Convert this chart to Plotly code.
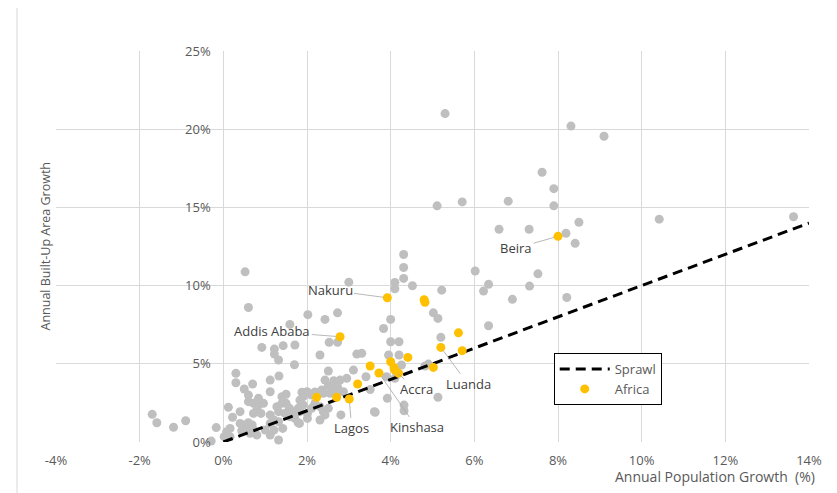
import plotly.graph_objects as go

# ---------------- data ----------------
world_x = [5.30, 8.31, 9.10, 7.62, 7.90, 7.90, 5.11, 5.71, 6.81, 6.59, 7.31, 8.50, 8.19, 8.41, 10.42, 13.63,
           6.02, 7.52, 6.34, 6.22, 7.32, 6.91, 8.21, 6.34, 5.22, 5.02, 5.13, 5.20, 4.82, 4.90, 5.13,
           4.31, 4.31, 4.31, 4.10, 4.10, 4.52, 3.00,
           2.02, 2.73, 2.43, 1.59, 4.00, 3.83, 2.53, 2.73, 4.00, 4.20, 1.71, 1.43, 1.22, 0.92, 0.52, 0.60,
           1.22, 1.32, 1.70, 2.31, 3.19, 3.31, 4.20, 3.95, 4.26,
           3.11, 2.51, 3.41, 3.90, 4.10, 2.43, 2.64, 2.79, 2.95, 3.51, 3.92, 4.32, 4.32, 3.63, 2.81, 2.43, 2.31, 1.79,
           2.11, 1.91, 1.83, 2.19, 2.00, 1.88, 2.51, 2.73, 2.39, 2.55, 2.71, 2.87, 2.63, 2.35,
           2.51, 2.39, 1.50, 1.40, 1.40, 1.50, 1.58, 1.28, 1.32, 1.12, 1.21, 1.12, 1.32,
           1.12, 1.33, 1.12, 0.84, 0.72, 0.84, 0.96, 0.80, 0.72, 0.90, 0.60, 0.60, 0.70, 0.50, 0.30, 0.30, 0.40, 0.12, 0.22,
           0.40, 0.52, 0.60, 0.69, 0.56, 0.72, 0.80, 0.64, 0.44, 0.16, 0.08, 0.16, 0.02, -0.17, -0.29, 1.32, 1.42, 1.00, 1.12, 1.21,
           1.82, 2.01, 2.01, 2.11, 2.19, 2.31, 1.69, 1.79, 1.59, 1.47, 1.71,
           -1.70, -1.59, -1.19, -0.90,
           1.91, 1.83, 3.61]
world_y = [21.0, 20.2, 19.55, 17.25, 16.2, 15.1, 15.1, 15.35, 15.4, 13.6, 13.6, 14.05, 13.35, 12.7, 14.25, 14.4,
           10.93, 10.75, 10.08, 9.65, 9.97, 9.12, 9.24, 7.43, 9.71, 8.26, 7.90, 6.69, 4.86, 4.98, 2.86,
           11.99, 11.16, 10.46, 10.2, 9.8, 9.99, 10.22,
           8.14, 8.26, 7.84, 7.52, 7.84, 7.26, 6.37, 6.37, 6.41, 6.41, 6.20, 6.16, 5.94, 6.05, 10.88, 8.60,
           5.62, 5.24, 4.94, 5.56, 5.62, 5.67, 5.56, 5.56, 4.92,
           4.60, 4.54, 4.17, 4.17, 4.07, 3.96, 3.92, 3.96, 4.07, 3.35, 2.79, 2.36, 2.00, 1.90, 1.73, 1.73, 1.41, 1.23,
           3.00, 2.90, 2.68, 3.20, 3.22, 3.18, 3.60, 3.53, 3.11, 3.11, 3.21, 3.21, 3.43, 3.32,
           2.15, 1.94, 3.05, 2.90, 2.47, 2.47, 2.15, 2.26, 1.94, 1.73, 1.41, 1.19, 1.30,
           3.96, 4.22, 3.21, 2.79, 2.47, 2.36, 2.47, 2.04, 1.83, 1.83, 3.00, 2.58, 3.71, 3.39, 4.39, 3.79, 1.94, 2.22, 1.58,
           1.19, 1.09, 1.23, 1.09, 0.87, 0.77, 0.45, 0.56, 0.72, 0.87, 0.66, 0.34, 0.34, 0.92, 0.06, 0.13, 0.87, 0.77, 0.45, 0.77,
           1.19, 1.83, 1.51, 2.15, 2.47, 2.26, 1.94, 2.15, 1.62, 1.83, 1.51,
           1.77, 1.23, 0.94, 1.36,
           2.36, 1.94, 1.94]

africa_x = [2.23, 2.71, 3.01, 3.21, 3.51, 3.72, 4.00, 4.10, 4.19, 4.08, 4.41, 3.92, 2.79, 4.80, 4.82,
            5.02, 5.20, 5.62, 5.71, 8.00]
africa_y = [2.86, 2.86, 2.75, 3.71, 4.86, 4.41, 5.13, 4.60, 4.39, 4.75, 5.41, 9.22, 6.73, 9.10, 8.93,
            4.77, 6.05, 6.98, 5.84, 13.15]

sprawl_x = [0, 14]
sprawl_y = [0, 14]

# city labels: name, point (x, y), label centre (x, y)
city_names = ["Nakuru", "Addis Ababa", "Beira", "Lagos", "Kinshasa", "Accra", "Luanda"]
city_pt_x = [3.92, 2.79, 8.00, 3.01, 3.72, 4.10, 5.20]
city_pt_y = [9.22, 6.73, 13.15, 2.75, 4.41, 4.55, 6.05]
city_lb_x = [2.55, 1.17, 7.00, 3.07, 4.62, 4.61, 5.85]
city_lb_y = [9.71, 7.07, 12.40, 0.87, 0.93, 3.36, 3.70]

x_ticks = [-4, -2, 0, 2, 4, 6, 8, 10, 12, 14]
x_tick_text = ["-4%", "-2%", "0%", "2%", "4%", "6%", "8%", "10%", "12%", "14%"]
y_ticks = [0, 5, 10, 15, 20, 25]
y_tick_text = ["0%", "5%", "10%", "15%", "20%", "25%"]

FONT = "Open Sans"
GREY_TXT = "#595959"
GRID = "#d9d9d9"

fig = go.Figure()

fig.add_trace(go.Scatter(
    x=world_x, y=world_y, mode="markers", showlegend=False,
    marker=dict(size=9, color="#bfbfbf", line=dict(width=0)),
    cliponaxis=False, hoverinfo="skip"))

fig.add_trace(go.Scatter(
    x=sprawl_x, y=sprawl_y, mode="lines", name="Sprawl",
    line=dict(color="black", width=3, dash="10px,6px"),
    cliponaxis=False))

fig.add_trace(go.Scatter(
    x=africa_x, y=africa_y, mode="markers", name="Africa",
    marker=dict(size=9, color="#ffc000", line=dict(width=0)),
    cliponaxis=False))

for name, px, py, lx, ly in zip(city_names, city_pt_x, city_pt_y, city_lb_x, city_lb_y):
    fig.add_annotation(
        x=px, y=py, ax=lx, ay=ly, axref="x", ayref="y", xref="x", yref="y",
        text=name, showarrow=True, arrowhead=0, arrowwidth=0.8, arrowcolor="#a6a6a6",
        standoff=4, font=dict(family=FONT, size=13, color="#404040"))

# axis titles
fig.add_annotation(
    x=1.0106, y=-0.0894, xref="paper", yref="paper", xanchor="right", yanchor="middle",
    text="Annual Population Growth  (%)", showarrow=False,
    font=dict(family=FONT, size=14, color=GREY_TXT))
fig.add_annotation(
    x=-0.0146, y=0.5, xref="paper", yref="paper", xanchor="center", yanchor="middle",
    text="Annual Built-Up Area Growth", textangle=-90, showarrow=False,
    font=dict(family=FONT, size=12.5, color=GREY_TXT))

# chart-area border
fig.add_shape(type="rect", xref="paper", yref="paper",
              x0=-0.0518, x1=1.0292, y0=-0.3, y1=1.112,
              line=dict(color="#d9d9d9", width=1), layer="below")

fig.update_layout(
    width=829, height=485,
    margin=dict(l=48, r=28, t=43, b=51),
    paper_bgcolor="white", plot_bgcolor="white",
    font=dict(family=FONT, size=12, color=GREY_TXT),
    xaxis=dict(range=[-4, 14], tickvals=x_ticks, ticktext=x_tick_text,
               showgrid=True, gridcolor=GRID, gridwidth=1, zeroline=False,
               showline=False, ticks="outside", ticklen=6, tickcolor="rgba(0,0,0,0)",
               tickfont=dict(family=FONT, size=13, color=GREY_TXT)),
    yaxis=dict(range=[0, 25], tickvals=y_ticks, ticktext=y_tick_text,
               showgrid=True, gridcolor=GRID, gridwidth=1, zeroline=False,
               showline=False, anchor="free", position=4/18,
               ticks="outside", ticklen=10, tickcolor="rgba(0,0,0,0)",
               tickfont=dict(family=FONT, size=13, color=GREY_TXT)),
    legend=dict(x=0.661, y=0.2274, xanchor="left", yanchor="top",
                bordercolor="black", borderwidth=1, bgcolor="white",
                font=dict(family=FONT, size=13, color=GREY_TXT),
                itemwidth=50),
)

fig.write_html("out.html")
